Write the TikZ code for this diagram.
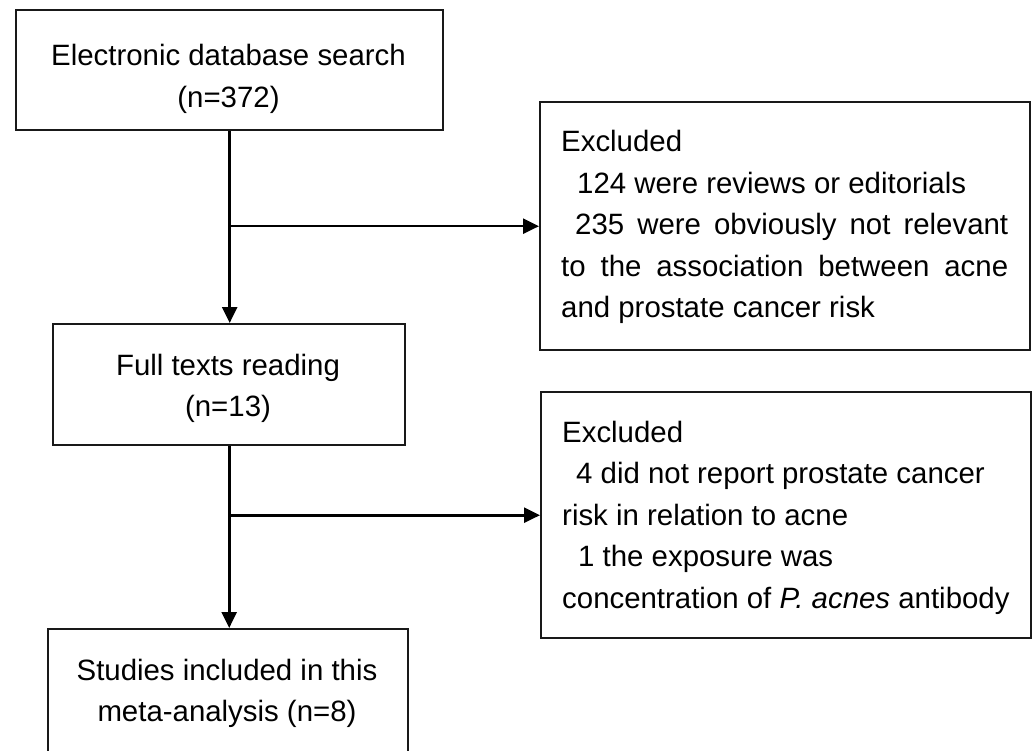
\documentclass[tikz,border=0pt]{standalone}
\usepackage{fontspec}
\setmainfont{Liberation Sans}
\usetikzlibrary{arrows.meta}
\begin{document}
\begin{tikzpicture}[x=1pt,y=1pt,
  box/.style={draw=black!90, line width=2.4pt, inner sep=0pt, anchor=north west},
  txt/.style={inner sep=0pt, anchor=base, font=\fontsize{29.4}{41.5}\selectfont},
  arr/.style={line width=2.6pt, draw=black, -{Triangle[length=16pt,width=15pt]}}]
\useasboundingbox (0,0) rectangle (1032,-751);
% main boxes
\node[box, minimum width=427pt, minimum height=120pt] (b1) at (15,-9) {};
\node[box, minimum width=352pt, minimum height=121pt] (b2) at (52,-323) {};
\node[box, minimum width=360pt, minimum height=140pt] (b3) at (47,-628) {};
% exclusion boxes
\node[box, minimum width=490pt, minimum height=248pt] (e1) at (539,-101) {};
\node[box, minimum width=490pt, minimum height=246pt] (e2) at (540,-391) {};
% texts
\node[txt] (t1) at (228.5,-66) {\parbox[t]{420pt}{\centering Electronic database search\\(n=372)}};
\node[txt] (t2) at (228,-375) {\parbox[t]{340pt}{\centering Full texts reading\\(n=13)}};
\node[txt] (t3) at (227,-680) {\parbox[t]{350pt}{\centering Studies included in this\\meta-analysis (n=8)}};
\node[txt, anchor=base west] (t4) at (561,-152) {\parbox[t]{447pt}{Excluded\\
\hspace*{16pt}124 were reviews or editorials\\
\makebox[447pt][s]{\hspace*{14pt}235 were obviously not relevant}\\
\makebox[447pt][s]{to the association between acne}\\
and prostate cancer risk}};
\node[txt, anchor=base west] (t5) at (562,-442) {\parbox[t]{460pt}{Excluded\\
\hspace*{14pt}4 did not report prostate cancer\\
risk in relation to acne\\
\hspace*{16pt}1 the exposure was\\
concentration of \textit{P. acnes} antibody}};
% connectors
\coordinate (j1) at (b1.south |- e1.west);
\coordinate (j2) at (b2.south |- e2.west);
\draw[arr] (b1.south) -- (b1.south |- b2.north);
\draw[arr] (b2.south) -- (b2.south |- b3.north);
\draw[arr] (j1) -- (e1.west);
\draw[arr] (j2) -- (e2.west);
\end{tikzpicture}
\end{document}
